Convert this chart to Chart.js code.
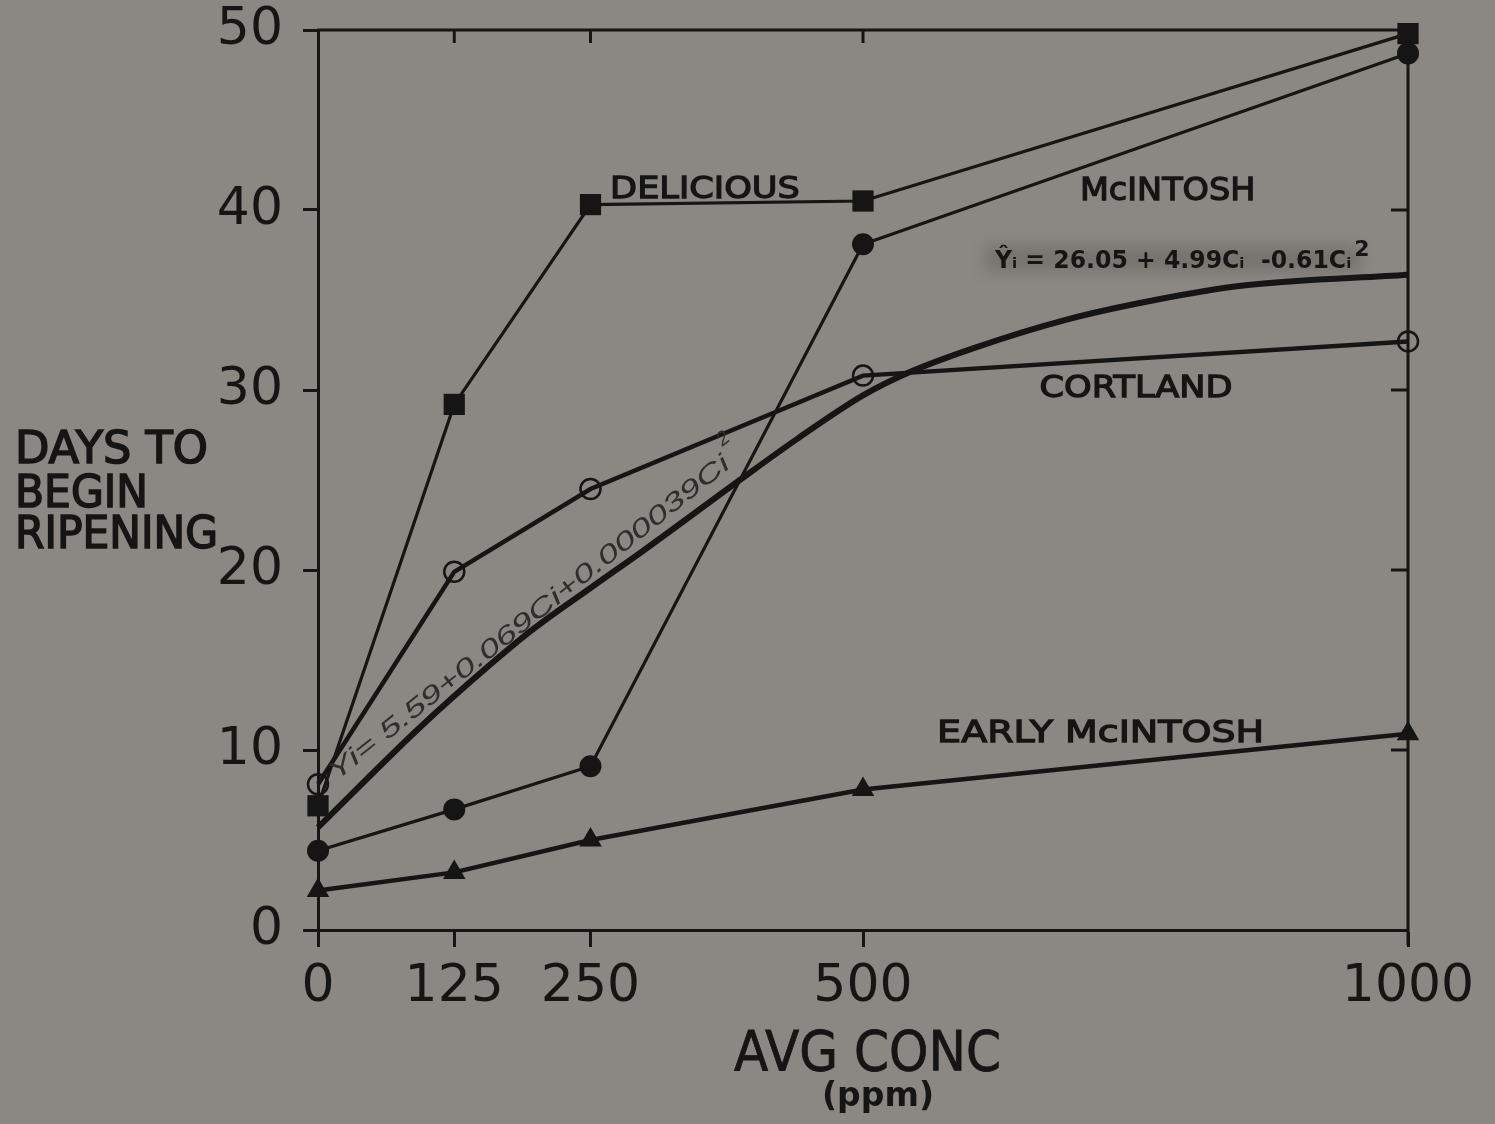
<!DOCTYPE html>
<html><head><meta charset="utf-8">
<script src="https://cdn.jsdelivr.net/npm/chart.js@4.4.1/dist/chart.umd.min.js"></script>
<style>html,body{margin:0;padding:0;background:#8b8782;}canvas{display:block;}</style>
</head><body>
<canvas id="c" width="1495" height="1124"></canvas>
<script>
// ---- data ----
const concentrations = [0, 125, 250, 500, 1000];
const xTickValues = [0, 125, 250, 500, 1000];
const yTickValues = [0, 10, 20, 30, 40, 50];
const delicious = [6.9, 29.2, 40.3, 40.5, 49.8];
const mcintosh = [4.4, 6.7, 9.1, 38.1, 48.7];
const cortland = [8.1, 19.9, 24.5, 30.8, 32.7];
const earlyMcintosh = [2.2, 3.2, 5.0, 7.8, 10.9];
const fitConc = [0, 89, 125, 195, 250, 299, 387, 440, 500, 543, 605, 686, 768, 849, 1000];
const fitDays = [5.7, 11.0, 13.0, 16.6, 19.0, 21.1, 25.0, 27.3, 29.7, 31.0, 32.4, 33.9, 35.0, 35.8, 36.4];

const INK = '#151515';
const FONT = '"DejaVu Sans", "Liberation Sans", sans-serif';
const pts = (xs, ys) => xs.map((x, i) => ({x, y: ys[i]}));

// annotation labels in data units (left x, right x, baseline y)
const curveLabels = [
  {text: 'DELICIOUS', x1: 268, x2: 442, y: 40.67, size: 31},
  {text: 'McINTOSH', x1: 699, x2: 860, y: 40.55, size: 32},
  {text: 'CORTLAND', x1: 662, x2: 839, y: 29.6, size: 31},
  {text: 'EARLY McINTOSH', x1: 568, x2: 868, y: 10.45, size: 31}
];

function fitText(ctx, text, left, baseline, font, width, stroke) {
  ctx.save();
  ctx.font = font;
  const w = ctx.measureText(text).width;
  ctx.translate(left, baseline);
  ctx.scale(width / w, 1);
  ctx.textAlign = 'left';
  ctx.textBaseline = 'alphabetic';
  ctx.fillText(text, 0, 0);
  if (stroke) { ctx.lineWidth = stroke; ctx.strokeText(text, 0, 0); }
  ctx.restore();
}

const decor = {
  id: 'decor',
  afterDatasetsDraw(chart) {
    const ctx = chart.ctx, xs = chart.scales.x, ys = chart.scales.y;
    const a = chart.chartArea;
    ctx.save();
    ctx.strokeStyle = INK; ctx.fillStyle = INK; ctx.lineCap = 'butt';
    // top and right frame
    ctx.lineWidth = 3;
    ctx.beginPath();
    ctx.moveTo(a.left - 1, a.top); ctx.lineTo(a.right, a.top);
    ctx.lineTo(a.right, a.bottom + 15);
    ctx.stroke();
    // inward ticks
    [125, 250, 500].forEach(v => {
      const px = xs.getPixelForValue(v);
      ctx.beginPath(); ctx.moveTo(px, a.top); ctx.lineTo(px, a.top + 13); ctx.stroke();
    });
    [10, 20, 30, 40].forEach(v => {
      const py = ys.getPixelForValue(v);
      ctx.beginPath(); ctx.moveTo(a.right, py); ctx.lineTo(a.right - 17, py); ctx.stroke();
    });

    // curve labels
    curveLabels.forEach(l => {
      const x1 = xs.getPixelForValue(l.x1), x2 = xs.getPixelForValue(l.x2);
      fitText(ctx, l.text, x1, ys.getPixelForValue(l.y), `${l.size}px ${FONT}`, x2 - x1, 1.3);
    });

    // fitted equation (upper)
    const fx1 = xs.getPixelForValue(621), fx2 = xs.getPixelForValue(948);
    const fb = ys.getPixelForValue(36.8);
    ctx.save();
    ctx.filter = 'blur(7px)';
    ctx.fillStyle = 'rgba(70,68,66,0.28)';
    ctx.fillRect(fx1 - 10, fb - 22, fx2 - fx1 + 20, 26);
    ctx.restore();
    fitText(ctx, 'Y\u0302\u1d62 = 26.05 + 4.99C\u1d62  -0.61C\u1d62', fx1, fb, `bold 24px ${FONT}`, fx2 - fx1, 0);
    ctx.font = `bold 22px ${FONT}`;
    ctx.textAlign = 'left'; ctx.textBaseline = 'alphabetic';
    ctx.fillText('2', fx2 + 3, fb - 12);

    // handwritten rotated equation
    const cx = xs.getPixelForValue(194), cy = ys.getPixelForValue(17.3);
    ctx.save();
    ctx.translate(cx, cy);
    ctx.rotate(-38.5 * Math.PI / 180);
    ctx.fillStyle = '#2e2e2e';
    ctx.font = `italic 24px "Liberation Sans", ${FONT}`;
    const ht = 'Yi= 5.59+0.069Ci+0.000039Ci';
    const hw = ctx.measureText(ht).width;
    ctx.save();
    ctx.scale(505 / hw, 1.05);
    ctx.textAlign = 'left'; ctx.textBaseline = 'middle';
    ctx.fillText(ht, -hw / 2, 0);
    ctx.restore();
    ctx.font = `italic 20px "Liberation Sans", ${FONT}`;
    ctx.textBaseline = 'middle';
    ctx.fillText('2', 258, -20);
    ctx.restore();

    // y axis title
    ctx.fillStyle = INK; ctx.strokeStyle = INK;
    fitText(ctx, 'DAYS TO', 15, 463, `44px ${FONT}`, 193, 1.6);
    fitText(ctx, 'BEGIN', 15, 507, `44px ${FONT}`, 133, 1.6);
    fitText(ctx, 'RIPENING', 15, 548, `44px ${FONT}`, 203, 1.6);
    // x axis title
    fitText(ctx, 'AVG CONC', 734, 1070, `55px ${FONT}`, 267, 0.8);
    fitText(ctx, '(ppm)', 822, 1106, `bold 33px ${FONT}`, 112, 0);
    ctx.restore();
  }
};

const lineBase = {showLine: true, tension: 0, clip: false, borderColor: INK, pointBorderColor: INK};

new Chart(document.getElementById('c'), {
  type: 'scatter',
  data: {
    datasets: [
      {...lineBase, label: 'Fitted', data: pts(fitConc, fitDays), borderWidth: 6, pointRadius: 0,
        cubicInterpolationMode: 'monotone', tension: 0.4},
      {...lineBase, label: 'Delicious', data: pts(concentrations, delicious), borderWidth: 3.2,
        pointStyle: 'rect', pointRadius: 15, pointBackgroundColor: INK, pointBorderWidth: 0},
      {...lineBase, label: 'McIntosh', data: pts(concentrations, mcintosh), borderWidth: 3.2,
        pointStyle: 'circle', pointRadius: 11, pointBackgroundColor: INK, pointBorderWidth: 0},
      {...lineBase, label: 'Cortland', data: pts(concentrations, cortland), borderWidth: 4.5,
        pointStyle: 'circle', pointRadius: 10, pointBackgroundColor: 'rgba(0,0,0,0)', pointBorderWidth: 2.5},
      {...lineBase, label: 'Early McIntosh', data: pts(concentrations, earlyMcintosh), borderWidth: 4.5,
        pointStyle: 'triangle', pointRadius: 13, pointBackgroundColor: INK, pointBorderWidth: 0}
    ]
  },
  options: {
    responsive: false,
    animation: false,
    layout: {padding: {top: 30, right: 87, left: 0, bottom: 0}},
    plugins: {legend: {display: false}, tooltip: {enabled: false}},
    scales: {
      x: {
        type: 'linear', min: 0, max: 1000,
        afterBuildTicks: s => { s.ticks = xTickValues.map(v => ({value: v})); },
        afterFit: s => { s.height = 194; s.paddingLeft = 0; s.paddingRight = 0; },
        grid: {drawOnChartArea: false, drawTicks: true, tickLength: 17, tickWidth: 3, tickColor: INK},
        border: {display: true, width: 3, color: INK},
        ticks: {font: {family: FONT, size: 52, lineHeight: 1}, color: INK, padding: 14, maxRotation: 0,
          autoSkip: false, callback: v => String(v)}
      },
      y: {
        type: 'linear', min: 0, max: 50,
        afterBuildTicks: s => { s.ticks = yTickValues.map(v => ({value: v})); },
        afterFit: s => { s.width = 318; s.paddingTop = 0; s.paddingBottom = 0; },
        grid: {drawOnChartArea: false, drawTicks: true, tickLength: 15, tickWidth: 3, tickColor: INK},
        border: {display: true, width: 3, color: INK},
        ticks: {font: {family: FONT, size: 52, lineHeight: 1}, color: INK, padding: 20, autoSkip: false,
          callback: v => String(v)}
      }
    }
  },
  plugins: [decor]
});
</script>
</body></html>
